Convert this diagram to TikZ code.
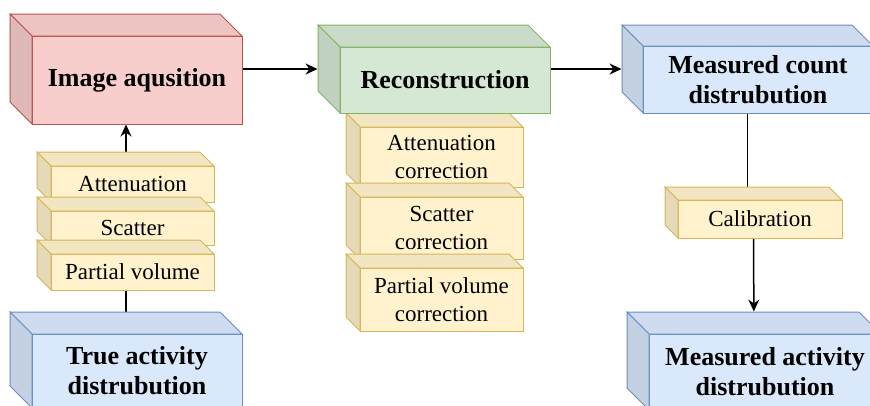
\documentclass[tikz,border=0pt]{standalone}
\usepackage{fontspec}
\setmainfont{Liberation Serif}
\usetikzlibrary{arrows.meta, calc, fit, backgrounds}

\definecolor{redF}{HTML}{F8CECC}
\definecolor{redD}{HTML}{B85450}
\definecolor{greenF}{HTML}{D5E8D4}
\definecolor{greenD}{HTML}{82B366}
\definecolor{blueF}{HTML}{DAE8FC}
\definecolor{blueD}{HTML}{6C8EBF}
\definecolor{yellowF}{HTML}{FFF2CC}
\definecolor{yellowD}{HTML}{D6B656}

\tikzset{
  headtext/.style={font=\fontsize{26}{30}\selectfont\bfseries, align=center},
  boxtext/.style={font=\fontsize{23}{28}\selectfont, align=center},
  flow/.style={line width=1.5pt, -{Stealth[length=12pt, width=11pt]}},
}

% name, colour, x0, y0, x1, y1, depth, text style, text
\newcommand{\cubebox}[9]{%
  \node[fit={(#3,#4) (#5,#6)}, inner sep=0pt] (#1) {};
  \filldraw[fill=#2F, draw=#2D] (#3+#7,#4+#7) rectangle (#5,#6);
  \filldraw[fill=#2F!95!black, draw=#2D] (#3,#4) -- (#5-#7,#4) -- (#5,#4+#7) -- (#3+#7,#4+#7) -- cycle;
  \filldraw[fill=#2F!90!black, draw=#2D] (#3,#4) -- (#3+#7,#4+#7) -- (#3+#7,#6) -- (#3,#6-#7) -- cycle;
  \node[#8] (#1-txt) at ($(#3+#7,#4+#7)!0.5!(#5,#6)$) {#9};
}

\begin{document}
\begin{tikzpicture}[x=1pt, y=-1pt, line width=1pt]
  \useasboundingbox (0,0) rectangle (870,405);

  % Left column
  \cubebox{img}{red}{10}{14}{242}{124}{22}{headtext}{Image aqusition}
  \cubebox{att}{yellow}{37}{152}{214}{202}{14}{boxtext}{Attenuation}
  \cubebox{sca}{yellow}{37}{197}{214}{245}{14}{boxtext}{Scatter}
  \cubebox{pvo}{yellow}{37}{240}{214}{290}{14}{boxtext}{Partial volume}
  \cubebox{true}{blue}{10}{312}{242}{408}{22}{headtext}{True activity\\distrubution}

  % Middle column
  \cubebox{attc}{yellow}{346}{113}{523}{187}{14}{boxtext}{Attenuation\\correction}
  \cubebox{scac}{yellow}{346}{183}{523}{259}{14}{boxtext}{Scatter\\correction}
  \cubebox{pvoc}{yellow}{346}{254}{523}{331}{14}{boxtext}{Partial volume\\correction}
  \cubebox{rec}{green}{318}{25}{550}{113}{22}{headtext}{Reconstruction}

  % Right column
  \cubebox{cnt}{blue}{622}{25}{873}{113}{21}{headtext}{Measured count\\distrubution}
  \cubebox{cal}{yellow}{665}{187}{842}{238}{13}{boxtext}{Calibration}
  \cubebox{act}{blue}{627}{312}{881}{410}{22}{headtext}{Measured activity\\distrubution}

  % Connectors
  \begin{scope}[on background layer]
    \draw[flow] (img) -- (rec);
    \draw[flow] (rec) -- (cnt);
    \draw[flow] (true) -- (img);
    \draw[line width=1.5pt] (cnt.south) -- (cnt.south |- cal.north);
    \draw[flow] (cal) -- (act);
  \end{scope}
\end{tikzpicture}
\end{document}
